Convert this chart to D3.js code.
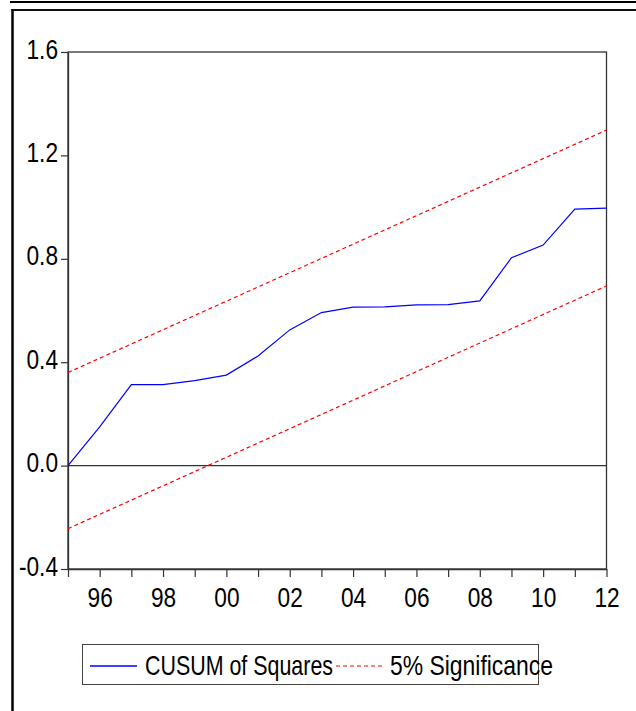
<!DOCTYPE html>
<html>
<head>
<meta charset="utf-8">
<script src="https://cdn.jsdelivr.net/npm/d3@7"></script>
<style>
  html, body { margin: 0; padding: 0; background: #fff; }
  svg { display: block; }
  text { font-family: "Liberation Sans", Arial, sans-serif; fill: #000; }
</style>
</head>
<body>
<svg id="chart" width="636" height="711"></svg>
<script>
// ---- Data ----
const years = [1995,1996,1997,1998,1999,2000,2001,2002,2003,2004,2005,2006,2007,2008,2009,2010,2011,2012];
const cusumSq = [0.0,0.15,0.313,0.313,0.329,0.350,0.424,0.525,0.592,0.613,0.614,0.622,0.623,0.637,0.804,0.853,0.992,0.996];
const boundYears = [1995, 2012];
const upperBound = [0.360, 1.298];
const lowerBound = [-0.244, 0.695];
const yTicks = [-0.4, 0.0, 0.4, 0.8, 1.2, 1.6];
const xTickYears = years;
const seriesNames = ["CUSUM of Squares", "5% Significance"];

// ---- Layout ----
const svg = d3.select("#chart");
const pLeft = 68, pRight = 606.5, pTop = 52, pBottom = 569;
const SX = 0.81;

// outer frame
svg.append("line").attr("x1", 10).attr("x2", 636).attr("y1", 2).attr("y2", 2)
  .attr("stroke", "#000").attr("stroke-width", 2);
svg.append("line").attr("x1", 11.5).attr("x2", 636).attr("y1", 10).attr("y2", 10)
  .attr("stroke", "#111").attr("stroke-width", 2);
svg.append("line").attr("x1", 12.5).attr("x2", 12.5).attr("y1", 9).attr("y2", 711)
  .attr("stroke", "#000").attr("stroke-width", 2.5);

const x = d3.scaleLinear().domain([1995, 2012]).range([pLeft, pRight]);
const y = d3.scaleLinear().domain([-0.4, 1.6]).range([pBottom, pTop]);

// plot frame
svg.append("rect").attr("x", pLeft).attr("y", pTop)
  .attr("width", pRight - pLeft).attr("height", pBottom - pTop)
  .attr("fill", "none").attr("stroke", "#333").attr("stroke-width", 1.3);

// zero line
svg.append("line").attr("x1", pLeft).attr("x2", pRight)
  .attr("y1", y(0)).attr("y2", y(0))
  .attr("stroke", "#333").attr("stroke-width", 1.2);

// Y axis
const yAxis = svg.append("g").attr("transform", `translate(${pLeft},0)`)
  .call(d3.axisLeft(y).tickValues(yTicks).tickSize(7).tickSizeOuter(0)
    .tickFormat(d => d.toFixed(1)));
yAxis.select(".domain").attr("stroke", "#333").attr("stroke-width", 1.3);
yAxis.selectAll(".tick line").attr("stroke", "#333").attr("stroke-width", 1.2);
yAxis.selectAll(".tick text")
  .attr("font-size", 28).attr("font-family", '"Liberation Sans", Arial, sans-serif')
  .attr("fill", "#000")
  .attr("x", -10 / SX).attr("dy", null).attr("y", 6)
  .attr("transform", `scale(${SX},1)`);

// X axis
const xAxis = svg.append("g").attr("transform", `translate(0,${pBottom})`)
  .call(d3.axisBottom(x).tickValues(xTickYears).tickSize(8).tickSizeOuter(0)
    .tickFormat(d => d % 2 === 0 ? String(d).slice(2) : ""));
xAxis.select(".domain").attr("stroke", "#333").attr("stroke-width", 1.3);
xAxis.selectAll(".tick line").attr("stroke", "#333").attr("stroke-width", 1.2);
xAxis.selectAll(".tick text")
  .attr("font-size", 28).attr("font-family", '"Liberation Sans", Arial, sans-serif')
  .attr("fill", "#000")
  .attr("dy", null).attr("y", 38.5)
  .attr("transform", `scale(${SX},1)`);

// lines
const line = d3.line().x(d => x(d[0])).y(d => y(d[1]));
svg.append("path")
  .datum(d3.zip(boundYears, upperBound))
  .attr("d", line).attr("fill", "none")
  .attr("stroke", "#ff0000").attr("stroke-width", 1.2).attr("stroke-dasharray", "4,3");
svg.append("path")
  .datum(d3.zip(boundYears, lowerBound))
  .attr("d", line).attr("fill", "none")
  .attr("stroke", "#ff0000").attr("stroke-width", 1.2).attr("stroke-dasharray", "4,3");
svg.append("path")
  .datum(d3.zip(years, cusumSq))
  .attr("d", line).attr("fill", "none")
  .attr("stroke", "#0000ff").attr("stroke-width", 1.2);

// legend
const lg = svg.append("g");
lg.append("rect").attr("x", 82.5).attr("y", 644.5).attr("width", 456).attr("height", 40)
  .attr("fill", "none").attr("stroke", "#444").attr("stroke-width", 1);
lg.append("line").attr("x1", 90).attr("x2", 137).attr("y1", 666).attr("y2", 666)
  .attr("stroke", "#0000ff").attr("stroke-width", 1.3);
lg.append("text").attr("x", 145).attr("y", 675).attr("font-size", 27.5)
  .attr("textLength", 188).attr("lengthAdjust", "spacingAndGlyphs")
  .text(seriesNames[0]);
lg.append("line").attr("x1", 336).attr("x2", 382).attr("y1", 666).attr("y2", 666)
  .attr("stroke", "#ff0000").attr("stroke-width", 1.2).attr("stroke-dasharray", "4,3");
lg.append("text").attr("x", 390).attr("y", 675).attr("font-size", 27.5)
  .attr("textLength", 163).attr("lengthAdjust", "spacingAndGlyphs")
  .text(seriesNames[1]);
</script>
</body>
</html>
